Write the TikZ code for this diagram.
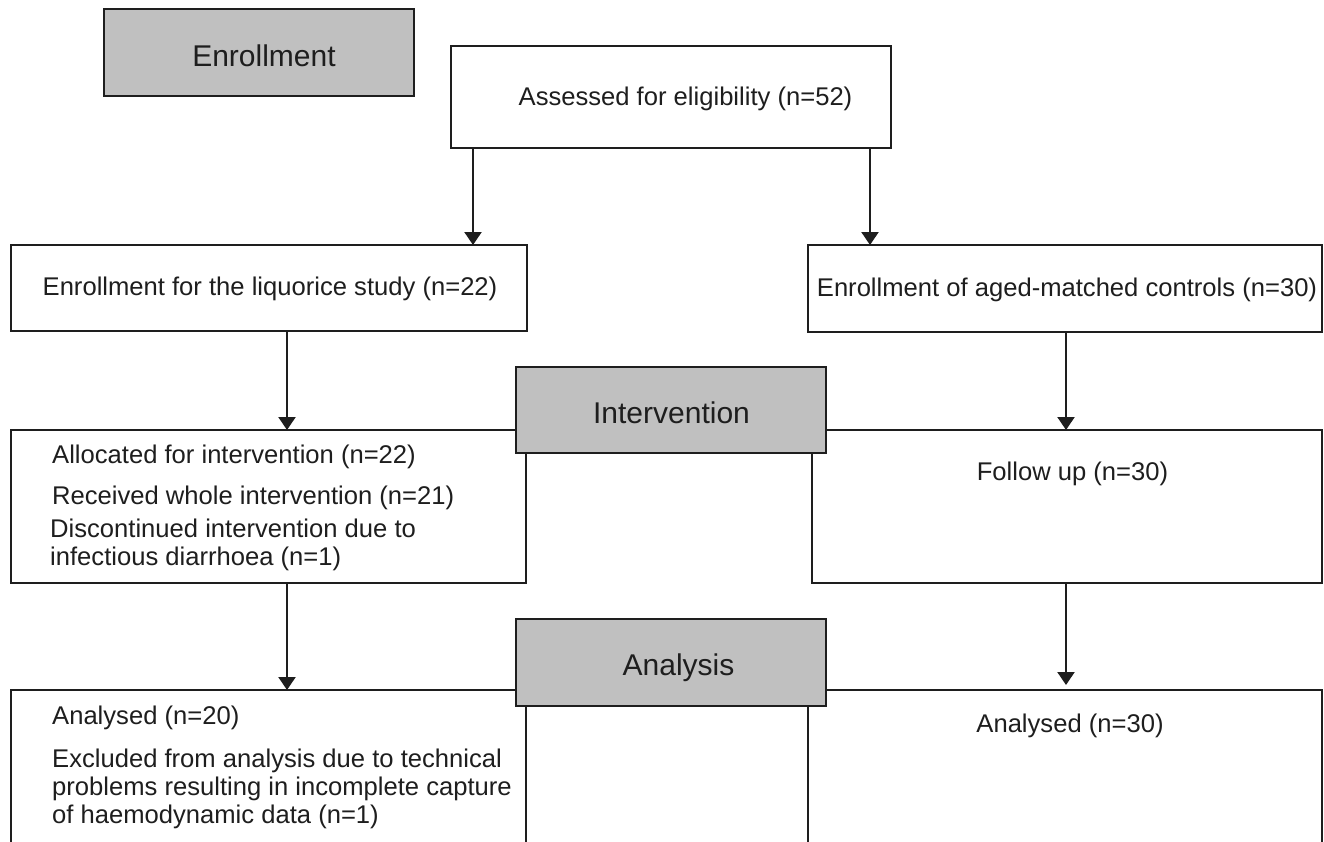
\documentclass[tikz,border=0pt]{standalone}
\usepackage{fontspec}
\setmainfont{Liberation Sans}
\usetikzlibrary{arrows.meta}
\definecolor{hdrgray}{RGB}{192,192,192}
\definecolor{ink}{RGB}{30,30,30}
\tikzset{
 box/.style={draw=ink, line width=2.8pt, rectangle, inner sep=0pt, outer sep=0pt, anchor=north west, fill=white},
 hdr/.style={box, fill=hdrgray},
 hdtxt/.style={font=\fontsize{30}{36}\selectfont, text=ink, inner sep=0pt, anchor=base},
 bdtxt/.style={font=\fontsize{25.6}{28}\selectfont, text=ink, inner sep=0pt, anchor=base},
 bdl/.style={bdtxt, anchor=base west},
 arr/.style={draw=ink, line width=2.2pt, -{Triangle[length=13pt,width=17pt]}},
}
\begin{document}
\begin{tikzpicture}[x=1pt,y=-1pt]
\useasboundingbox (0,0) rectangle (1324,841);
% column coordinates for connectors
\coordinate (xA) at (473,0);
\coordinate (xB) at (870,0);
\coordinate (xL) at (287,0);
\coordinate (xR) at (1066,0);
% boxes
\node[hdr, minimum width=310pt, minimum height=87pt] (enr) at (104,9) {};
\node[box, minimum width=440pt, minimum height=102pt] (assess) at (451,46) {};
\node[box, minimum width=516pt, minimum height=86pt] (lic) at (11,245) {};
\node[box, minimum width=514pt, minimum height=87pt] (ctl) at (808,245) {};
\node[box, minimum width=515pt, minimum height=153pt] (alloc) at (11,430) {};
\node[box, minimum width=510pt, minimum height=153pt] (follow) at (812,430) {};
\node[hdr, minimum width=310pt, minimum height=86pt] (interv) at (516,367) {};
\node[box, minimum width=515pt, minimum height=153pt] (anl) at (11,690) {};
\node[box, minimum width=514pt, minimum height=153pt] (anr) at (808,690) {};
\node[hdr, minimum width=310pt, minimum height=87pt] (analysis) at (516,619) {};
% texts
\node[hdtxt] (enrT) at (264,66) {Enrollment};
\node[bdtxt] (assT) at (685.5,105) {Assessed for eligibility (n=52)};
\node[bdtxt] (licT) at (270,295) {Enrollment for the liquorice study (n=22)};
\node[bdtxt] (ctlT) at (1067,296) {Enrollment of aged-matched controls (n=30)};
\node[hdtxt] (intT) at (671.5,423) {Intervention};
\node[bdl] (allocT1) at (52,463) {Allocated for intervention (n=22)};
\node[bdl] (allocT2) at (52,504) {Received whole intervention (n=21)};
\node[bdl] (allocT3) at (50,537) {Discontinued intervention due to};
\node[bdl] (allocT4) at (50,565) {infectious diarrhoea (n=1)};
\node[bdtxt] (folT) at (1072.5,480) {Follow up (n=30)};
\node[hdtxt] (anaT) at (678.5,675) {Analysis};
\node[bdl] (anlT1) at (52,724) {Analysed (n=20)};
\node[bdl] (anlT2) at (52,767) {Excluded from analysis due to technical};
\node[bdl] (anlT3) at (52,795) {problems resulting in incomplete capture};
\node[bdl] (anlT4) at (52,823) {of haemodynamic data (n=1)};
\node[bdtxt] (anrT) at (1070,732) {Analysed (n=30)};
% connectors
\draw[arr] (assess.south -| xA) -- (lic.north -| xA);
\draw[arr] (assess.south -| xB) -- (ctl.north -| xB);
\draw[arr] (lic.south -| xL) -- (alloc.north -| xL);
\draw[arr] (ctl.south -| xR) -- (follow.north -| xR);
\draw[arr] (alloc.south -| xL) -- (anl.north -| xL);
\draw[arr, shorten >=5pt] (follow.south -| xR) -- (anr.north -| xR);
\end{tikzpicture}
\end{document}
